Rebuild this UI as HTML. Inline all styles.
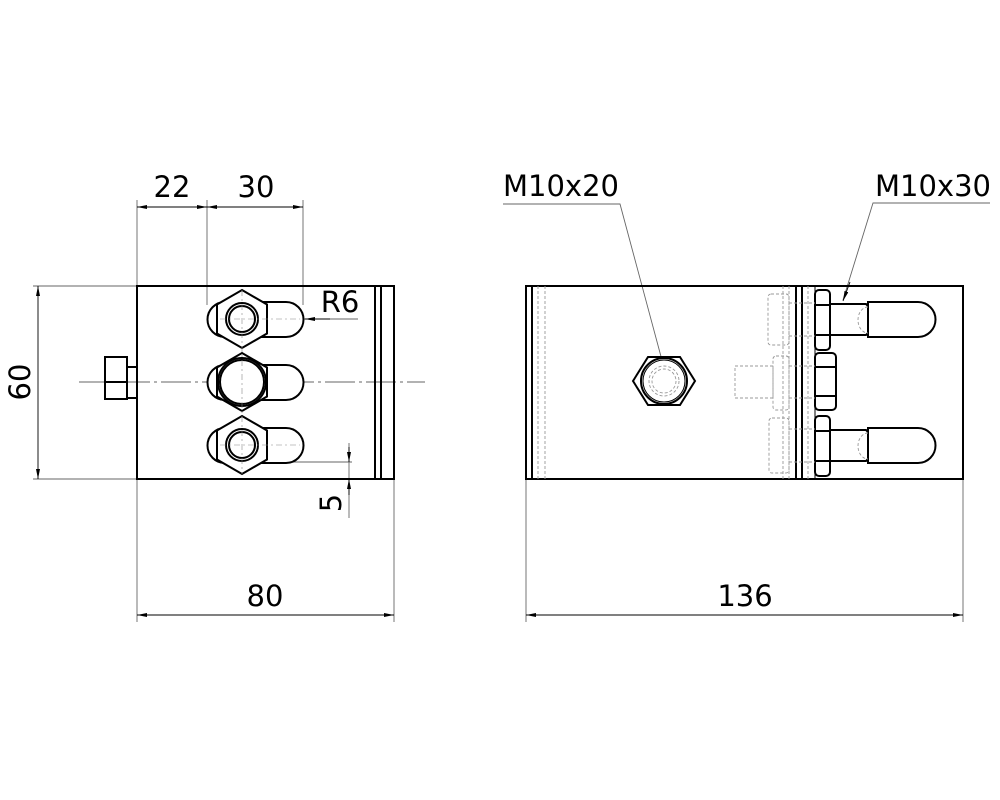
<!DOCTYPE html>
<html><head><style>html,body{margin:0;padding:0;background:#fff}svg{display:block}</style></head><body>
<svg width="1000" height="800" viewBox="0 0 1000 800" xmlns="http://www.w3.org/2000/svg" font-family="'DejaVu Sans','Liberation Sans',sans-serif">
<defs>
<marker id="a" viewBox="0 0 10 6" refX="10" refY="3" markerWidth="10" markerHeight="6" orient="auto-start-reverse" markerUnits="userSpaceOnUse"><path d="M0,1 L10,3 L0,5 Z" fill="#000"/></marker>
</defs>
<g stroke="#666" stroke-width="0.9" fill="none">
<line x1="137" y1="200" x2="137" y2="286"/><line x1="207" y1="200" x2="207" y2="305"/><line x1="303" y1="200" x2="303" y2="305"/>
<line x1="137" y1="207" x2="207" y2="207" marker-start="url(#a)" marker-end="url(#a)" stroke="#000"/>
<line x1="207" y1="207" x2="303" y2="207" marker-start="url(#a)" marker-end="url(#a)" stroke="#000"/>
<line x1="33" y1="286" x2="137" y2="286"/><line x1="33" y1="479" x2="137" y2="479"/>
<line x1="38" y1="286" x2="38" y2="479" marker-start="url(#a)" marker-end="url(#a)" stroke="#000"/>
<line x1="137" y1="479" x2="137" y2="622"/><line x1="394" y1="479" x2="394" y2="622"/>
<line x1="137" y1="615" x2="394" y2="615" marker-start="url(#a)" marker-end="url(#a)" stroke="#000"/>
<line x1="286" y1="319" x2="358" y2="319"/>
<line x1="330" y1="319" x2="305" y2="319" marker-end="url(#a)" stroke="#000"/>
<line x1="285" y1="462" x2="352" y2="462"/>
<line x1="349" y1="443" x2="349" y2="518"/>
<line x1="349" y1="447" x2="349" y2="462" marker-end="url(#a)" stroke="#000"/>
<line x1="349" y1="495" x2="349" y2="479" marker-end="url(#a)" stroke="#000"/>
<line x1="79" y1="382" x2="425" y2="382" stroke-dasharray="30,4,3,4"/>
<line x1="526" y1="479" x2="526" y2="622"/><line x1="963" y1="479" x2="963" y2="622"/>
<line x1="526" y1="615" x2="963" y2="615" marker-start="url(#a)" marker-end="url(#a)" stroke="#000"/>
<polyline points="503,204 620,204 663,364"/>
<polyline points="990,203 873,203 843,300"/>
<line x1="850" y1="282" x2="843" y2="301" marker-end="url(#a)" stroke="#000"/>
</g>
<g font-size="29" fill="#000">
<text x="172" y="197" text-anchor="middle">22</text>
<text x="256" y="197" text-anchor="middle">30</text>
<text x="340" y="312" text-anchor="middle">R6</text>
<text x="265" y="606" text-anchor="middle">80</text>
<text x="745" y="606" text-anchor="middle">136</text>
<text x="561" y="196" text-anchor="middle">M10x20</text>
<text x="933" y="196" text-anchor="middle">M10x30</text>
<text transform="translate(30,382) rotate(-90)" text-anchor="middle">60</text>
<text transform="translate(341,503) rotate(-90)" text-anchor="middle">5</text>
</g>
<g stroke="#000" stroke-width="2" fill="none">
<rect x="137" y="286" width="257" height="193"/>
<line x1="375" y1="286" x2="375" y2="479"/><line x1="381" y1="286" x2="381" y2="479"/>
<rect x="105" y="357" width="22" height="42"/><line x1="105" y1="382" x2="127" y2="382"/>
<rect x="127" y="367" width="10" height="31"/>
<path d="M225,302 L286,302 A17.5,17.5 0 0 1 286,337 L225,337 A17.5,17.5 0 0 1 225,302 Z" fill="#fff"/>
<path d="M225,365 L286,365 A17.5,17.5 0 0 1 286,400 L225,400 A17.5,17.5 0 0 1 225,365 Z" fill="#fff"/>
<path d="M225,428 L286,428 A17.5,17.5 0 0 1 286,463 L225,463 A17.5,17.5 0 0 1 225,428 Z" fill="#fff"/>
<polygon points="242,290 267,304.5 267,333.5 242,348 217,333.5 217,304.5" fill="#fff"/>
<circle cx="242" cy="319" r="16"/><circle cx="242" cy="319" r="13"/>
<polygon points="242,353 267,367.5 267,396.5 242,411 217,396.5 217,367.5" fill="#fff"/>
<circle cx="242" cy="382" r="24"/><circle cx="242" cy="382" r="22"/>
<polygon points="242,416 267,430.5 267,459.5 242,474 217,459.5 217,430.5" fill="#fff"/>
<circle cx="242" cy="445" r="16"/><circle cx="242" cy="445" r="13"/>
</g>
<g stroke="#888" stroke-width="0.6" stroke-dasharray="6,3,2,3">
<line x1="242" y1="290" x2="242" y2="474"/>
<line x1="220" y1="319" x2="300" y2="319"/><line x1="220" y1="445" x2="300" y2="445"/>
</g>
<g stroke="#000" stroke-width="2" fill="none">
<rect x="526" y="286" width="437" height="193"/>
<line x1="532" y1="286" x2="532" y2="479"/>
<line x1="796" y1="286" x2="796" y2="479"/><line x1="802" y1="286" x2="802" y2="479"/>
<line x1="815" y1="286" x2="815" y2="479" stroke-width="1"/>
<polygon points="633,381 648,357 680,357 695,381 680,405 648,405" fill="#fff"/>
<circle cx="664" cy="381" r="23"/><circle cx="664" cy="381" r="21" stroke-width="1"/>
<path d="M868,302 L918,302 A17.5,17.5 0 0 1 918,337 L868,337 Z"/>
<path d="M868,428 L918,428 A17.5,17.5 0 0 1 918,463 L868,463 Z"/>
<path d="M831,304 L866,304 L868,306 L868,333 L866,335 L831,335"/>
<path d="M831,430 L866,430 L868,432 L868,459 L866,461 L831,461"/>
<rect x="815" y="290" width="15" height="60" rx="4"/><line x1="815" y1="305" x2="830" y2="305"/><line x1="815" y1="335" x2="830" y2="335"/>
<rect x="815" y="353" width="21" height="57" rx="4"/><line x1="815" y1="367" x2="836" y2="367"/><line x1="815" y1="396" x2="836" y2="396"/>
<rect x="815" y="416" width="15" height="60" rx="4"/><line x1="815" y1="431" x2="830" y2="431"/><line x1="815" y1="461" x2="830" y2="461"/>
</g>
<g stroke="#999" stroke-width="0.9" fill="none" stroke-dasharray="3,2">
<line x1="538" y1="286" x2="538" y2="479"/><line x1="545" y1="286" x2="545" y2="479"/>
<line x1="783" y1="286" x2="783" y2="479"/><line x1="789" y1="286" x2="789" y2="479"/><line x1="808" y1="286" x2="808" y2="479"/>
<circle cx="664" cy="381" r="15"/><circle cx="664" cy="381" r="12"/>
<rect x="768" y="294" width="21" height="51" rx="3"/>
<rect x="773" y="356" width="16" height="54" rx="3"/>
<rect x="735" y="366" width="38" height="32"/>
<rect x="769" y="418" width="20" height="55" rx="3"/>
<line x1="789" y1="303" x2="815" y2="303"/><line x1="789" y1="336" x2="815" y2="336"/>
<line x1="789" y1="366" x2="815" y2="366"/><line x1="789" y1="398" x2="815" y2="398"/>
<line x1="789" y1="429" x2="815" y2="429"/><line x1="789" y1="462" x2="815" y2="462"/>
<path d="M868,307 A10,13 0 0 0 868,333"/><path d="M868,433 A10,13 0 0 0 868,459"/>
</g>
</svg>
</body></html>
